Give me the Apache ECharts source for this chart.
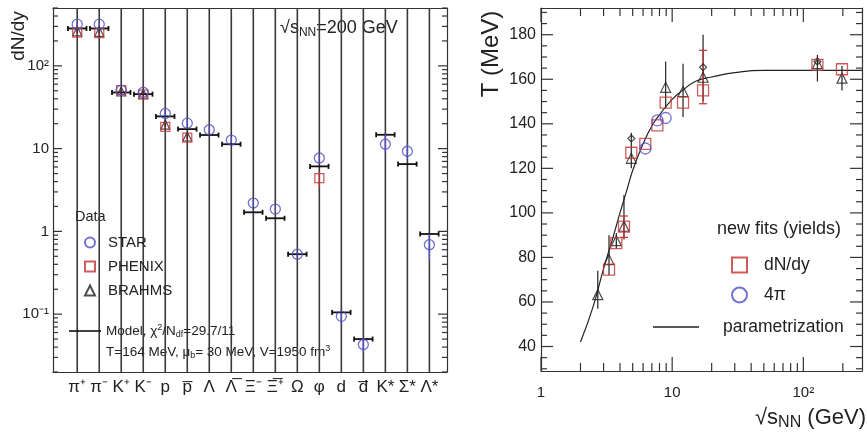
<!DOCTYPE html>
<html>
<head>
<meta charset="utf-8">
<script src="https://cdn.jsdelivr.net/npm/echarts@6/dist/echarts.min.js"></script>
<style>
  html, body { margin: 0; padding: 0; background: #fff; }
  #chart { width: 867px; height: 439px; }
</style>
</head>
<body>
<div id="chart"></div>
<script>
  // ---- left panel: particle yields, sqrt(sNN) = 200 GeV ----
  const species = ["π⁺", "π⁻", "K⁺", "K⁻", "p", "p\u0305", "Λ", "Λ\u0305", "Ξ⁻", "Ξ\u0305⁺", "Ω", "φ", "d", "d\u0305", "K*", "Σ*", "Λ*"];
  const modelYield = [283, 283, 47.7, 45.5, 24.5, 17.2, 14.6, 11.3, 1.7, 1.44, 0.53, 6.1, 0.105, 0.05, 14.7, 6.5, 0.93];
  const starYield = [319, 319, 51, 48, 26.6, 20.3, 16.9, 12.7, 2.2, 1.86, 0.53, 7.7, 0.094, 0.043, 11.3, 9.3, 0.69];
  const starLow = [295, 295, 47, 44.5, 23, 18.3, 15.6, 11.7, 2.0, 1.7, 0.49, 7.0, 0.08, 0.035, 8.8, 7.4, 0.44];
  const starHigh = [343, 343, 55, 51.5, 31, 22.5, 18.2, 13.8, 2.4, 2.05, 0.57, 8.5, 0.105, 0.052, 15, 11.3, 0.93];
  const phenixYield = [253, 248, 51, 45, 18.3, 13.6, null, null, null, null, null, 4.4, null, null, null, null, null];
  const phenixLow = [236, 231, 48, 42, 17.1, 12.7, null, null, null, null, null, 3.4, null, null, null, null, null];
  const phenixHigh = [270, 265, 54, 48, 19.5, 14.5, null, null, null, null, null, 5.2, null, null, null, null, null];
  const brahmsYield = [262, 258, 49, 46, 19.5, 14, null, null, null, null, null, null, null, null, null, null, null];
  const brahmsLow = [248, 244, 46.5, 43.5, 18.3, 13.2, null, null, null, null, null, null, null, null, null, null, null];
  const brahmsHigh = [276, 272, 51.5, 48.5, 20.7, 14.8, null, null, null, null, null, null, null, null, null, null, null];

  // ---- right panel: T vs sqrt(sNN) ----
  const fitX = [3.3, 3.75, 4.29, 4.88, 6.24, 7.71, 8.92, 12.1, 17.2, 128, 197];
  const fitT = [74.5, 86.4, 93.8, 127, 131, 139.3, 149.5, 149.5, 155, 166.5, 164.5];
  const fitErrX = [4.29, 17.2];
  const fitErrLow = [89, 149];
  const fitErrHigh = [98.6, 173];
  const fullX = [6.24, 7.71, 8.92];
  const fullT = [128.9, 141.5, 142.6];
  const oldX = [2.71, 3.3, 3.75, 4.29, 4.88, 8.92, 12.1, 17.2, 128, 197];
  const oldT = [63.3, 79, 87.5, 94, 124.5, 156.4, 154.5, 160.9, 167, 160.5];
  const oldLow = [57, 72, 84, 88, 120, 147, 143, 150, 159, 155];
  const oldHigh = [74, 90, 91, 108, 136, 168, 167, 180, 171, 166];
  const otherX = [4.88, 17.2, 128];
  const otherT = [133.4, 165.4, 168];
  const paramX = [2.0, 2.5, 3, 3.5, 4, 4.5, 5, 6, 7, 8, 10, 12, 15, 20, 30, 50, 100, 280];
  const paramT = [42, 58, 75, 88, 100, 110, 119, 131, 139, 144, 151, 155, 159, 161, 163, 164, 164, 164];

  const tLabels = [40, 60, 80, 100, 120, 140, 160, 180];
  const sLabels = [1, 10, 100];
  const yieldLabels = [0.1, 1, 10, 100];

  const FONT = "Liberation Sans";
  const BLUE = "#4d4dc6";
  const RED = "#c43232";
  const DARK = "#222";

  const yieldMin = 0.02, yieldMax = 500;
  const indexMin = -1.1, indexMax = 16.8;
  const tMin = 29, tMax = 192;
  const sMin = 1, sMax = 280;

  // 2..9 x 10^n inside [lo, hi]
  function minorLogTicks(lo, hi) {
    const out = [];
    for (let e = -3; e <= 4; e++) {
      for (let k = 2; k <= 9; k++) {
        const v = +(k * Math.pow(10, e)).toPrecision(6);
        if (v >= lo && v <= hi) out.push(v);
      }
    }
    return out;
  }
  const tMinor = [];
  for (let t = 30; t <= 190; t += 5) tMinor.push(t);

  const pts = (xs, ys) => xs.map((x, i) => [x, ys[i]]).filter((p) => p[1] != null);
  const bars = (xs, lo, hi) => xs.map((x, i) => [x, lo[i], hi[i]]).filter((p) => p[1] != null);
  const idx = species.map((_, i) => i);

  // tick positions as data points: [x, y]
  const yieldTicks = yieldLabels.concat(minorLogTicks(yieldMin, yieldMax)).map((v) => [0, v]);
  const tTicks = tMinor.map((v) => [10, v]);
  const sTicks = sLabels.concat(minorLogTicks(sMin, sMax)).map((v) => [v, 100]);

  function frame(extra) {
    return Object.assign({
      axisLine: { show: true, onZero: false, lineStyle: { color: "#333", width: 1.2 } },
      axisTick: { show: false },
      axisLabel: { show: false },
      splitLine: { show: false },
    }, extra);
  }

  const superscripts = { "-1": "10⁻¹", "0": "1", "1": "10", "2": "10²" };

  function errorBar(color, cap) {
    return (params, api) => {
      const lo = api.coord([api.value(0), api.value(1)]);
      const hi = api.coord([api.value(0), api.value(2)]);
      const s = { stroke: color, lineWidth: 1.2 };
      const children = [{ type: "line", shape: { x1: lo[0], y1: lo[1], x2: hi[0], y2: hi[1] }, style: s }];
      if (cap) {
        children.push({ type: "line", shape: { x1: lo[0] - cap, y1: lo[1], x2: lo[0] + cap, y2: lo[1] }, style: s });
        children.push({ type: "line", shape: { x1: hi[0] - cap, y1: hi[1], x2: hi[0] + cap, y2: hi[1] }, style: s });
      }
      return { type: "group", children: children };
    };
  }

  // inward ticks on both opposite sides of the frame; lo/hi are the other axis' limits
  function tickMarks(dir, isMajor, major, minor, lo, hi) {
    return (params, api) => {
      const s = { stroke: "#333", lineWidth: 1.2 };
      if (dir === "y") {
        const v = api.value(1);
        const len = isMajor(v) ? major : minor;
        const a = api.coord([lo, v]), b = api.coord([hi, v]);
        return {
          type: "group",
          children: [
            { type: "line", shape: { x1: a[0], y1: a[1], x2: a[0] + len, y2: a[1] }, style: s },
            { type: "line", shape: { x1: b[0] - len, y1: b[1], x2: b[0], y2: b[1] }, style: s },
          ],
        };
      }
      const v = api.value(0);
      const len = isMajor(v) ? major : minor;
      const a = api.coord([v, lo]), b = api.coord([v, hi]);
      return {
        type: "group",
        children: [
          { type: "line", shape: { x1: a[0], y1: a[1], x2: a[0], y2: a[1] - len }, style: s },
          { type: "line", shape: { x1: b[0], y1: b[1], x2: b[0], y2: b[1] + len }, style: s },
        ],
      };
    };
  }
  const isDecade = (v) => Math.abs(Math.log10(v) - Math.round(Math.log10(v))) < 1e-6;

  const chart = echarts.init(document.getElementById("chart"));

  chart.setOption({
    animation: false,
    textStyle: { fontFamily: FONT },
    grid: [
      { left: 53, top: 8, width: 394, height: 364, outerBoundsMode: "none" },
      { left: 541, top: 8, width: 321, height: 363, outerBoundsMode: "none" },
    ],
    xAxis: [
      frame({
        gridIndex: 0, type: "value", min: indexMin, max: indexMax, position: "bottom",
        axisLabel: {
          show: true, customValues: idx, formatter: (v) => species[Math.round(v)],
          fontSize: 17, color: DARK, margin: 7, fontFamily: FONT,
        },
      }),
      frame({ gridIndex: 0, type: "value", min: indexMin, max: indexMax, position: "top" }),
      frame({
        gridIndex: 1, type: "log", min: sMin, max: sMax, position: "bottom",
        axisLabel: {
          show: true, customValues: sLabels, fontSize: 15, color: DARK, margin: 14,
          formatter: (v) => superscripts[String(Math.round(Math.log10(v)))],
        },
      }),
      frame({ gridIndex: 1, type: "log", min: sMin, max: sMax, position: "top" }),
    ],
    yAxis: [
      frame({
        gridIndex: 0, type: "log", min: yieldMin, max: yieldMax, position: "left",
        axisLabel: {
          show: true, customValues: yieldLabels, fontSize: 15, color: DARK, margin: 4,
          formatter: (v) => superscripts[String(Math.round(Math.log10(v)))],
        },
      }),
      frame({ gridIndex: 0, type: "log", min: yieldMin, max: yieldMax, position: "right" }),
      frame({
        gridIndex: 1, type: "value", min: tMin, max: tMax, position: "left",
        axisLabel: { show: true, customValues: tLabels, fontSize: 16, color: DARK, margin: 5 },
      }),
      frame({ gridIndex: 1, type: "value", min: tMin, max: tMax, position: "right" }),
    ],
    legend: [
      {
        data: [{ name: "STAR", icon: "circle" }, { name: "PHENIX", icon: "rect" }, { name: "BRAHMS", icon: "triangle" }],
        orient: "vertical", left: 84, top: 235, padding: 0, itemWidth: 10, itemHeight: 10, itemGap: 9,
        selectedMode: false, formatter: "{t|{name}}",
        textStyle: { rich: { t: { fontSize: 15, lineHeight: 18, color: DARK, fontFamily: FONT, padding: [0, 0, 0, 8] } } },
      },
      {
        data: [{ name: "Model", icon: "rect" }],
        left: 69, top: 323, padding: 0, itemWidth: 32, itemHeight: 1.6, selectedMode: false,
        formatter: () => "{t|Model, χ}{sup|2}{t|/N}{sub|df}{t|=29.7/11}",
        textStyle: {
          rich: {
            t: { fontSize: 13.5, lineHeight: 16, color: DARK, fontFamily: FONT },
            sup: { fontSize: 9, color: DARK, fontFamily: FONT, padding: [0, 0, 7, 0] },
            sub: { fontSize: 9, color: DARK, fontFamily: FONT, padding: [7, 0, 0, 0] },
          },
        },
      },
      {
        data: [{ name: "dN/dy", icon: "rect" }, { name: "4π", icon: "circle" }],
        orient: "vertical", left: 731, top: 256, padding: 0, itemWidth: 15, itemHeight: 15, itemGap: 12,
        selectedMode: false, formatter: "{t|{name}}",
        textStyle: { rich: { t: { fontSize: 17.5, lineHeight: 20, color: DARK, fontFamily: FONT, padding: [0, 0, 0, 12] } } },
      },
      {
        data: [{ name: "parametrization", icon: "rect" }],
        left: 653, top: 318, padding: 0, itemWidth: 46, itemHeight: 1.4, selectedMode: false,
        formatter: "{t|{name}}",
        textStyle: { rich: { t: { fontSize: 17.5, lineHeight: 20, color: DARK, fontFamily: FONT, padding: [0, 0, 0, 19] } } },
      },
    ],
    graphic: [
      {
        type: "text", x: 19, y: 36, rotation: Math.PI / 2,
        style: { text: "dN/dy", fontSize: 19, fontFamily: FONT, fill: DARK, align: "center", verticalAlign: "middle" },
      },
      {
        type: "text", x: 280, y: 28,
        style: {
          text: "√{s|s}{sub|NN}{t|=200 GeV}", fontSize: 18, fontFamily: FONT, fill: DARK, verticalAlign: "middle",
          rich: {
            s: { fontSize: 18, fontFamily: FONT, fill: DARK },
            sub: { fontSize: 12, fontFamily: FONT, fill: DARK, padding: [9, 0, 0, 0] },
            t: { fontSize: 18, fontFamily: FONT, fill: DARK },
          },
        },
      },
      {
        type: "text", x: 75, y: 217,
        style: { text: "Data", fontSize: 14.5, fontFamily: FONT, fill: DARK, verticalAlign: "middle" },
      },
      {
        type: "text", x: 106, y: 352,
        style: {
          text: "{t|T=164 MeV, μ}{sub|b}{t|= 30 MeV, V=1950 fm}{sup|3}", verticalAlign: "middle",
          rich: {
            t: { fontSize: 13.5, fontFamily: FONT, fill: DARK },
            sub: { fontSize: 9, fontFamily: FONT, fill: DARK, padding: [7, 0, 0, 0] },
            sup: { fontSize: 9, fontFamily: FONT, fill: DARK, padding: [0, 0, 7, 0] },
          },
        },
      },
      {
        type: "text", x: 491, y: 54, rotation: Math.PI / 2,
        style: { text: "T (MeV)", fontSize: 24, fontFamily: FONT, fill: DARK, align: "center", verticalAlign: "middle" },
      },
      {
        type: "text", x: 717, y: 229,
        style: { text: "new fits (yields)", fontSize: 18, fontFamily: FONT, fill: DARK, verticalAlign: "middle" },
      },
      {
        type: "text", x: 866, y: 418,
        style: {
          text: "√{s|s}{sub|NN}{t| (GeV)}", fontSize: 22, fontFamily: FONT, fill: DARK, align: "right", verticalAlign: "middle",
          rich: {
            s: { fontSize: 22, fontFamily: FONT, fill: DARK },
            sub: { fontSize: 16, fontFamily: FONT, fill: DARK, padding: [10, 0, 0, 0] },
            t: { fontSize: 22, fontFamily: FONT, fill: DARK },
          },
        },
      },
    ],
    series: [
      // frame ticks
      {
        name: "yield ticks", type: "custom", xAxisIndex: 0, yAxisIndex: 0, silent: true, z: 6, data: yieldTicks,
        renderItem: tickMarks("y", isDecade, 9, 5, indexMin, indexMax),
      },
      {
        name: "T ticks", type: "custom", xAxisIndex: 2, yAxisIndex: 2, silent: true, z: 6, data: tTicks,
        renderItem: tickMarks("y", (v) => v % 20 === 0, 12, 6, sMin, sMax),
      },
      {
        name: "s ticks", type: "custom", xAxisIndex: 2, yAxisIndex: 2, silent: true, z: 6, data: sTicks,
        renderItem: tickMarks("x", isDecade, 14, 8, tMin, tMax),
      },

      {
        name: "species", type: "custom", xAxisIndex: 0, yAxisIndex: 0, silent: true, z: 1,
        data: idx.map((i) => [i, 1]),
        renderItem: (params, api) => {
          const top = api.coord([api.value(0), yieldMax]);
          const bottom = api.coord([api.value(0), yieldMin]);
          return { type: "line", shape: { x1: top[0], y1: top[1], x2: bottom[0], y2: bottom[1] }, style: { stroke: "#3a3a3a", lineWidth: 1.6 } };
        },
      },
      {
        name: "Model", type: "custom", xAxisIndex: 0, yAxisIndex: 0, silent: true, z: 3,
        itemStyle: { color: "#111" },
        data: pts(idx, modelYield),
        renderItem: (params, api) => {
          const i = api.value(0), v = api.value(1);
          const a = api.coord([i - 0.42, v]), b = api.coord([i + 0.42, v]);
          const s = { stroke: "#111", lineWidth: 1.8 };
          return {
            type: "group",
            children: [
              { type: "line", shape: { x1: a[0], y1: a[1], x2: b[0], y2: b[1] }, style: s },
              { type: "line", shape: { x1: a[0], y1: a[1] - 2.5, x2: a[0], y2: a[1] + 2.5 }, style: s },
              { type: "line", shape: { x1: b[0], y1: b[1] - 2.5, x2: b[0], y2: b[1] + 2.5 }, style: s },
            ],
          };
        },
      },
      { name: "STAR err", type: "custom", xAxisIndex: 0, yAxisIndex: 0, silent: true, z: 4, data: bars(idx, starLow, starHigh), renderItem: errorBar(BLUE, 0) },
      { name: "PHENIX err", type: "custom", xAxisIndex: 0, yAxisIndex: 0, silent: true, z: 4, data: bars(idx, phenixLow, phenixHigh), renderItem: errorBar(RED, 0) },
      { name: "BRAHMS err", type: "custom", xAxisIndex: 0, yAxisIndex: 0, silent: true, z: 4, data: bars(idx, brahmsLow, brahmsHigh), renderItem: errorBar(DARK, 0) },
      {
        name: "BRAHMS", type: "scatter", xAxisIndex: 0, yAxisIndex: 0, z: 5, symbol: "triangle", symbolSize: 9,
        itemStyle: { color: "rgba(0,0,0,0)", borderColor: DARK, borderWidth: 1.2 }, data: pts(idx, brahmsYield),
      },
      {
        name: "PHENIX", type: "scatter", xAxisIndex: 0, yAxisIndex: 0, z: 5, symbol: "rect", symbolSize: 9,
        itemStyle: { color: "rgba(0,0,0,0)", borderColor: RED, borderWidth: 1.3 }, data: pts(idx, phenixYield),
      },
      {
        name: "STAR", type: "scatter", xAxisIndex: 0, yAxisIndex: 0, z: 5, symbol: "circle", symbolSize: 10,
        itemStyle: { color: "rgba(0,0,0,0)", borderColor: BLUE, borderWidth: 1.3 }, data: pts(idx, starYield),
      },

      {
        name: "parametrization", type: "line", xAxisIndex: 2, yAxisIndex: 2, smooth: true, symbol: "none", z: 2,
        lineStyle: { color: DARK, width: 1.2 }, itemStyle: { color: DARK },
        data: pts(paramX, paramT),
      },
      { name: "old err", type: "custom", xAxisIndex: 2, yAxisIndex: 2, silent: true, z: 3, data: bars(oldX, oldLow, oldHigh), renderItem: errorBar(DARK, 0) },
      { name: "fit err", type: "custom", xAxisIndex: 2, yAxisIndex: 2, silent: true, z: 3, data: bars(fitErrX, fitErrLow, fitErrHigh), renderItem: errorBar(RED, 4) },
      {
        name: "old fits", type: "scatter", xAxisIndex: 2, yAxisIndex: 2, z: 4, symbol: "triangle", symbolSize: 10,
        itemStyle: { color: "rgba(0,0,0,0)", borderColor: DARK, borderWidth: 1.2 }, data: pts(oldX, oldT),
      },
      {
        name: "other fits", type: "scatter", xAxisIndex: 2, yAxisIndex: 2, z: 4, symbol: "diamond", symbolSize: 7,
        itemStyle: { color: "rgba(0,0,0,0)", borderColor: DARK, borderWidth: 1.2 }, data: pts(otherX, otherT),
      },
      {
        name: "dN/dy", type: "scatter", xAxisIndex: 2, yAxisIndex: 2, z: 5, symbol: "rect", symbolSize: 11,
        itemStyle: { color: "rgba(0,0,0,0)", borderColor: RED, borderWidth: 1.3 }, data: pts(fitX, fitT),
      },
      {
        name: "4π", type: "scatter", xAxisIndex: 2, yAxisIndex: 2, z: 5, symbol: "circle", symbolSize: 11,
        itemStyle: { color: "rgba(0,0,0,0)", borderColor: BLUE, borderWidth: 1.3 }, data: pts(fullX, fullT),
      },
    ],
  });
</script>
</body>
</html>
